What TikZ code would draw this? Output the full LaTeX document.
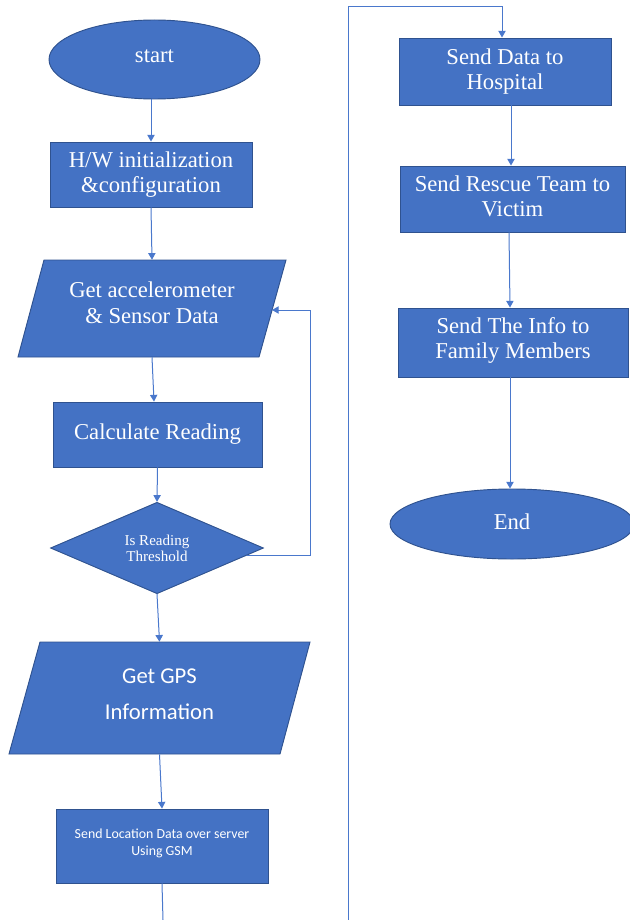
\documentclass[tikz,border=0pt]{standalone}
\usepackage{fontspec}
\setmainfont{Liberation Serif}
\newfontfamily\calibri{Carlito}
\usetikzlibrary{shapes.geometric,arrows.meta,calc}
\definecolor{ofblue}{HTML}{4472C4}
\definecolor{ofedge}{HTML}{2F528F}
\definecolor{lnblue}{HTML}{4A78CC}
\tikzset{
  blk/.style={fill=ofblue,draw=ofedge,line width=0.7pt,text=white,align=center,inner sep=0pt,
    font=\fontsize{17}{19}\selectfont},
  boxnode/.style={blk,rectangle},
  ovalnode/.style={blk,ellipse},
  dianode/.style={blk,diamond,font=\fontsize{11.3}{12}\selectfont},
  paratext/.style={rectangle,inner sep=0pt,text=white,align=center,font=\fontsize{17}{19}\selectfont},
  paraface/.style={fill=ofblue,draw=ofedge,line width=0.7pt},
  conn/.style={draw=lnblue,line width=0.75pt},
  arr/.style={conn,-{Triangle[width=5.5pt,length=5pt]}}
}
\begin{document}
\begin{tikzpicture}[x=0.75pt,y=-0.75pt]
\useasboundingbox (0,0) rectangle (630,920);
% left column
\node[ovalnode,minimum width=211*0.75pt,minimum height=79*0.75pt,text depth=4.5pt] (start) at (154.5,59.5) {start};
\node[boxnode,minimum width=202*0.75pt,minimum height=65*0.75pt] (hw) at (151,174.5) {H/W initialization\\\&configuration};
% parallelogram 1
\fill[paraface] (44,260) -- (286,260) -- (259,357) -- (18,357) -- cycle;
\node[paratext,minimum width=242*0.75pt,minimum height=97*0.75pt,text depth=9pt] (acc) at (152,308.5) {Get accelerometer\\\& Sensor Data};
\coordinate (accR) at (272,310);
\node[boxnode,minimum width=209*0.75pt,minimum height=65*0.75pt] (calc) at (157.5,434.5) {Calculate Reading};
\node[dianode,minimum width=213*0.75pt,minimum height=88*0.75pt] (dia) at (157,548) {Is Reading\\Threshold};
% parallelogram 2
\fill[paraface] (40,642) -- (310,642) -- (280,754) -- (9,754) -- cycle;
\node[paratext,minimum width=270*0.75pt,minimum height=112*0.75pt,text depth=6pt,font=\calibri\fontsize{17}{27}\selectfont] (gps) at (159.5,698) {Get GPS\\Information};
\node[boxnode,minimum width=212*0.75pt,minimum height=74*0.75pt,text depth=5.2pt,font=\calibri\fontsize{10.4}{12.75}\selectfont] (loc) at (162,846) {Send Location Data over server\\Using GSM};
\coordinate (locEnd) at (163,920);
% right column
\node[boxnode,minimum width=212*0.75pt,minimum height=67*0.75pt] (hosp) at (505,71.5) {Send Data to\\Hospital};
\node[boxnode,minimum width=225*0.75pt,minimum height=66*0.75pt,text depth=4.5pt] (resc) at (512.5,199) {Send Rescue Team to\\Victim};
\node[boxnode,minimum width=230*0.75pt,minimum height=69*0.75pt,text depth=7pt] (info) at (513,342.5) {Send The Info to\\Family Members};
\node[ovalnode,minimum width=244*0.75pt,minimum height=70*0.75pt,text depth=4pt] (end) at (512,524) {End};
\coordinate (busBot) at (348,920);
\coordinate (busTop) at (348,7);
% connectors
\draw[arr] (start.south -| hw.north) -- (hw.north);
\draw[arr] (hw.south) -- (acc.north);
\draw[arr] (acc.south) -- ([xshift=-3.5*0.75pt]calc.north);
\draw[arr] (calc.south) -- (dia.north);
\draw[arr] (dia.south) -- (gps.north);
\draw[arr] (gps.south) -- (loc.north);
\draw[conn] (loc.south) -- (locEnd);
\coordinate (fbA) at ($(dia.east)!0.16!(dia.south)$);
\coordinate (fbB) at (310,310);
\draw[arr] (fbA) -| (fbB) -- (accR);
\draw[arr] (busBot) -- (busTop) -| ([xshift=-3*0.75pt]hosp.north);
\draw[arr] ([xshift=6*0.75pt]hosp.south) -- ([xshift=-1.5*0.75pt]resc.north);
\draw[arr] ([xshift=-3.5*0.75pt]resc.south) -- ([xshift=-3*0.75pt]info.north);
\draw[arr] ([xshift=-3*0.75pt]info.south) -- ([xshift=-2*0.75pt]end.north);
\end{tikzpicture}
\end{document}
